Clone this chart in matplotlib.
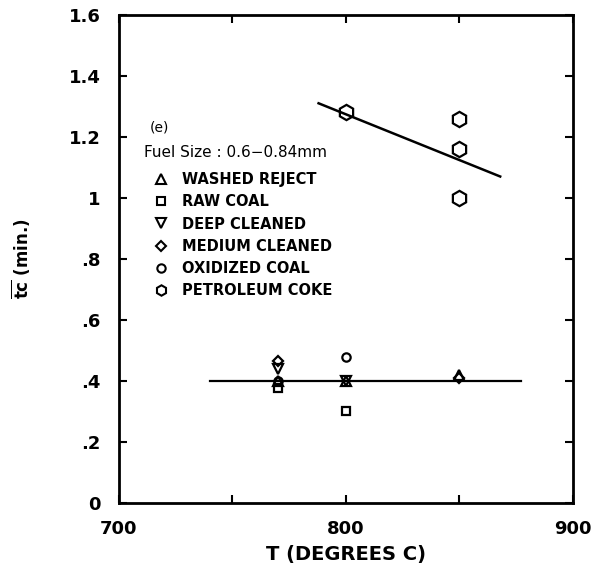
import numpy as np
import matplotlib.pyplot as plt
from matplotlib.lines import Line2D

plt.rcParams['font.family'] = ['DejaVu Sans']
plt.rcParams['mathtext.fontset'] = 'dejavusans'

# data
washed_T = [770, 800, 850]
washed_tc = [0.40, 0.40, 0.42]
raw_T = [770, 800]
raw_tc = [0.378, 0.30]
deep_T = [770, 800]
deep_tc = [0.44, 0.40]
medium_T = [770, 850]
medium_tc = [0.465, 0.41]
oxid_T = [770, 800]
oxid_tc = [0.40, 0.477]
coke_T = [800, 850, 850, 850]
coke_tc = [1.28, 1.26, 1.16, 1.00]

coal_fit_T = [740, 877]
coal_fit_tc = [0.40, 0.40]
coke_fit_T = [788, 868]
coke_fit_tc = [1.31, 1.07]

series = [
    ('WASHED REJECT', washed_T, washed_tc, '^', 7),
    ('RAW COAL', raw_T, raw_tc, 's', 6),
    ('DEEP CLEANED', deep_T, deep_tc, 'v', 7),
    ('MEDIUM CLEANED', medium_T, medium_tc, 'D', 5.5),
    ('OXIDIZED COAL', oxid_T, oxid_tc, 'o', 6),
    ('PETROLEUM COKE', coke_T, coke_tc, 'h', 11),
]

fig = plt.figure(figsize=(6.03, 5.69), dpi=100)
ax = fig.add_axes([0.197, 0.116, 0.753, 0.858])

ax.plot(coal_fit_T, coal_fit_tc, color='black', lw=1.6)
ax.plot(coke_fit_T, coke_fit_tc, color='black', lw=1.8)

handles = []
for name, xs, ys, m, ms in series:
    ax.plot(xs, ys, linestyle='none', marker=m, ms=ms, mfc='none',
            mec='black', mew=1.6)
    handles.append(Line2D([], [], linestyle='none', marker=m,
                          ms=min(ms, 7.5), mfc='none', mec='black', mew=1.5,
                          label=name))

ax.set_xlim(700, 900)
ax.set_ylim(0, 1.6)
ax.set_xticks([700, 750, 800, 850, 900])
ax.set_xticklabels(['700', '', '800', '', '900'])
ax.set_yticks(np.arange(0, 1.61, 0.2))
ax.set_yticklabels(['0', '.2', '.4', '.6', '.8', '1', '1.2', '1.4', '1.6'])
ax.tick_params(direction='in', length=6, width=1.5, top=True, right=True,
               labelsize=13)
ax.tick_params(axis='x', pad=12)
ax.tick_params(axis='y', pad=13)
for lab in ax.get_xticklabels() + ax.get_yticklabels():
    lab.set_fontweight('bold')
for s in ax.spines.values():
    s.set_linewidth(2)

ax.set_xlabel('T (DEGREES C)', fontsize=14, fontweight='bold', labelpad=5)
ax.set_ylabel(r'$\overline{\mathbf{tc}}$ (min.)', fontsize=12,
              fontweight='bold', labelpad=26)

ax.text(718, 1.23, '(e)', fontsize=10, ha='center', va='center')
ax.text(711, 1.15, 'Fuel Size : 0.6\u22120.84mm', fontsize=11,
        ha='left', va='center')

ax.legend(handles=handles, loc='upper left', bbox_to_anchor=(0.055, 0.693),
          frameon=False, prop={'weight': 'bold', 'size': 10.5},
          labelspacing=0.5, handletextpad=0.75, handlelength=1.4,
          borderpad=0)

fig.savefig('out.png', dpi=100)
